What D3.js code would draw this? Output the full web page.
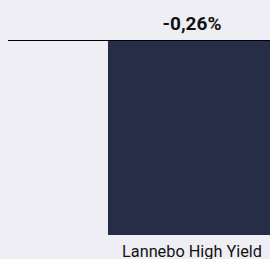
<!DOCTYPE html>
<html>
<head>
<meta charset="utf-8">
<script src="https://cdn.jsdelivr.net/npm/d3@7"></script>
<style>
  html, body { margin: 0; padding: 0; background: #efeef4; overflow: hidden; }
  text { font-family: Roboto, "Noto Sans", sans-serif; }
</style>
</head>
<body>
<script>
const WIDTH = 270;
const HEIGHT = 259;

const categories = ["Lannebo High Yield"];
const values = [-0.26];
const valueLabels = ["-0,26%"];

const svg = d3.select("body")
    .append("svg")
    .attr("width", WIDTH)
    .attr("height", HEIGHT);

// plot area runs off the right edge, the bar is clipped like in the source
const x = d3.scaleBand()
    .domain(categories)
    .range([8, 376])
    .padding(0.373);

const y = d3.scaleLinear()
    .domain([-0.26, 0])
    .range([235, 40.5]);

svg.selectAll(".bar")
    .data(values)
    .enter()
    .append("rect")
    .attr("class", "bar")
    .attr("x", (d, i) => x(categories[i]))
    .attr("width", x.bandwidth())
    .attr("y", d => y(Math.max(0, d)))
    .attr("height", d => Math.abs(y(d) - y(0)))
    .style("fill", "#252d47");

// zero line
svg.append("line")
    .attr("x1", 8)
    .attr("x2", 376)
    .attr("y1", y(0))
    .attr("y2", y(0))
    .style("stroke", "#000")
    .style("stroke-width", 1.2);

// condensed look: squeeze the text to the widths in the source
svg.selectAll(".value")
    .data(valueLabels)
    .enter()
    .append("text")
    .attr("class", "value")
    .attr("x", (d, i) => x(categories[i]) + x.bandwidth() / 2 - 29.5)
    .attr("y", 29.5)
    .attr("textLength", 59)
    .attr("lengthAdjust", "spacingAndGlyphs")
    .style("font-size", "17.5px")
    .style("font-weight", "bold")
    .style("fill", "#111")
    .text(d => d);

svg.selectAll(".cat")
    .data(categories)
    .enter()
    .append("text")
    .attr("class", "cat")
    .attr("x", d => x(d) + x.bandwidth() / 2 - 70)
    .attr("y", 256.5)
    .attr("textLength", 140)
    .attr("lengthAdjust", "spacingAndGlyphs")
    .style("font-size", "16px")
    .style("fill", "#111")
    .text(d => d);
</script>
</body>
</html>
